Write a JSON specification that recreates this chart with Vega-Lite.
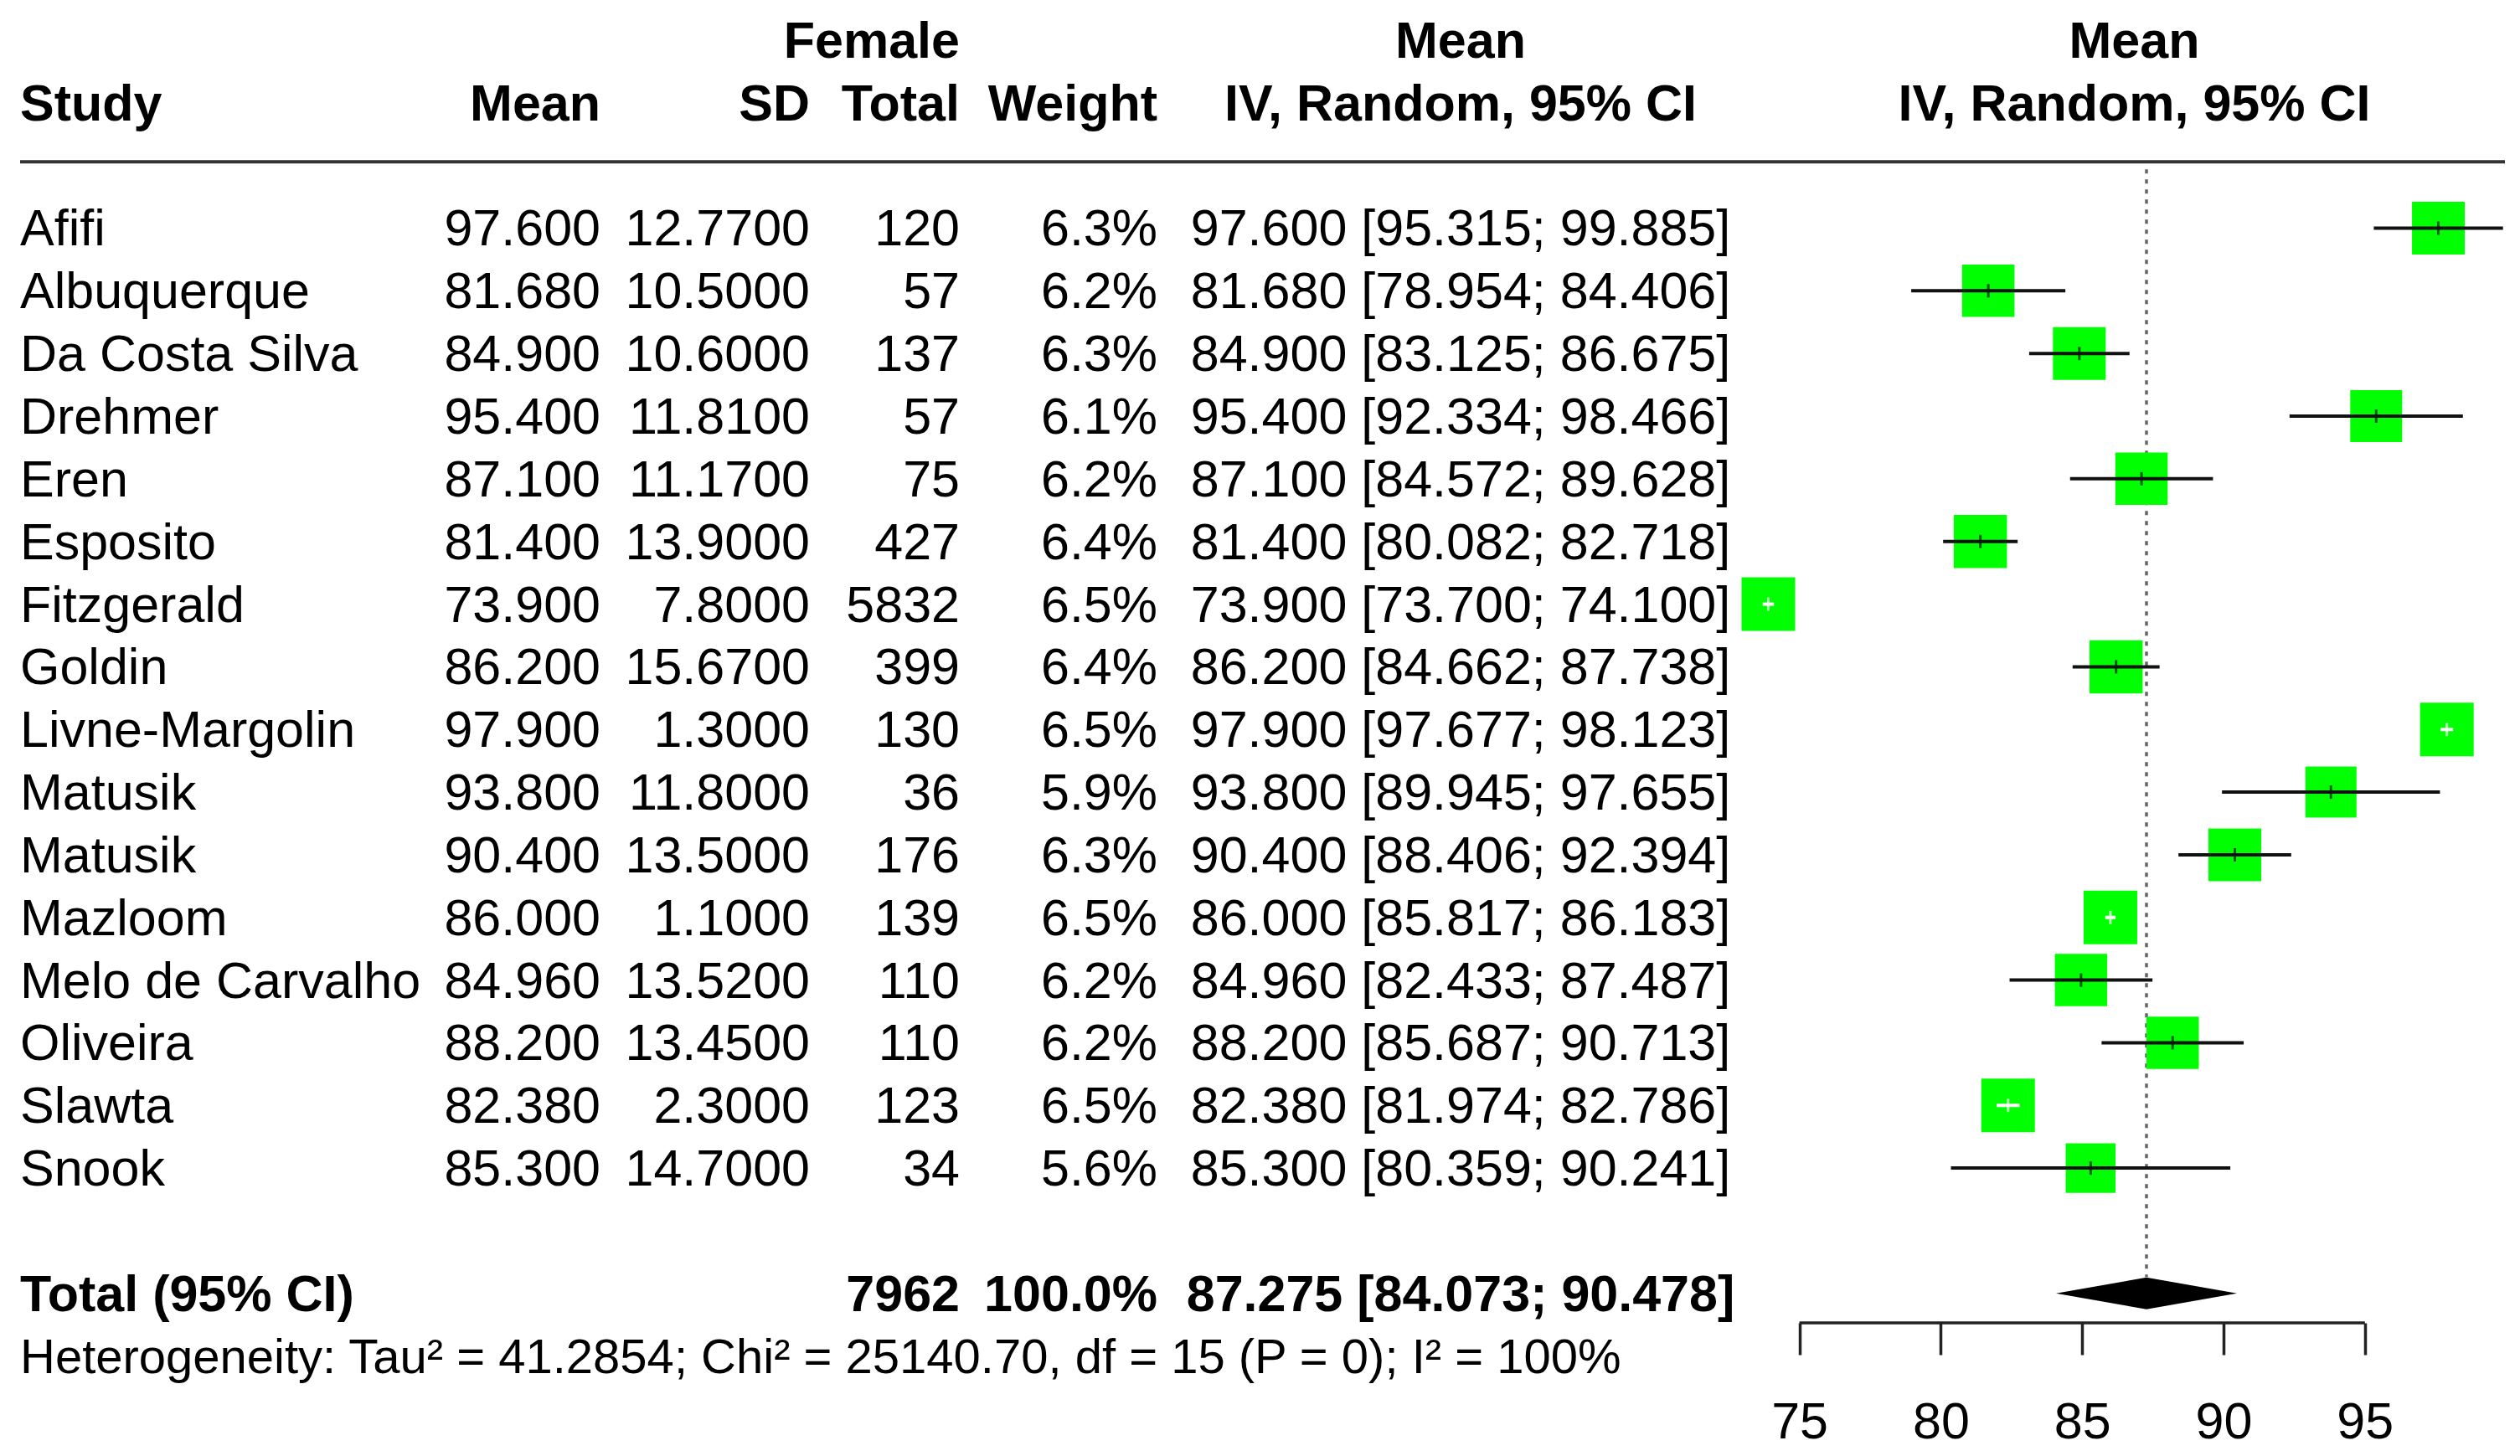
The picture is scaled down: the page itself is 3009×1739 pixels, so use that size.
{
  "$schema": "https://vega.github.io/schema/vega-lite/v6.json",
  "padding": {"left": 22, "right": 20, "top": 0, "bottom": 0},
  "spacing": 0,
  "bounds": "flush",
  "background": "white",
  "config": {
    "view": {"stroke": null},
    "text": {"font": "Liberation Sans", "fontSize": 61, "color": "#000000", "baseline": "middle", "dy": 3}
  },
  "datasets": {
    "studies": [
      {"row": 1, "study": "Afifi", "mean": 97.6, "sd": 12.77, "total": 120, "weight": 0.063, "lower": 95.315, "upper": 99.885, "ci": "97.600 [95.315; 99.885]"},
      {"row": 2, "study": "Albuquerque", "mean": 81.68, "sd": 10.5, "total": 57, "weight": 0.062, "lower": 78.954, "upper": 84.406, "ci": "81.680 [78.954; 84.406]"},
      {"row": 3, "study": "Da Costa Silva", "mean": 84.9, "sd": 10.6, "total": 137, "weight": 0.063, "lower": 83.125, "upper": 86.675, "ci": "84.900 [83.125; 86.675]"},
      {"row": 4, "study": "Drehmer", "mean": 95.4, "sd": 11.81, "total": 57, "weight": 0.061, "lower": 92.334, "upper": 98.466, "ci": "95.400 [92.334; 98.466]"},
      {"row": 5, "study": "Eren", "mean": 87.1, "sd": 11.17, "total": 75, "weight": 0.062, "lower": 84.572, "upper": 89.628, "ci": "87.100 [84.572; 89.628]"},
      {"row": 6, "study": "Esposito", "mean": 81.4, "sd": 13.9, "total": 427, "weight": 0.064, "lower": 80.082, "upper": 82.718, "ci": "81.400 [80.082; 82.718]"},
      {"row": 7, "study": "Fitzgerald", "mean": 73.9, "sd": 7.8, "total": 5832, "weight": 0.065, "lower": 73.7, "upper": 74.1, "ci": "73.900 [73.700; 74.100]"},
      {"row": 8, "study": "Goldin", "mean": 86.2, "sd": 15.67, "total": 399, "weight": 0.064, "lower": 84.662, "upper": 87.738, "ci": "86.200 [84.662; 87.738]"},
      {"row": 9, "study": "Livne-Margolin", "mean": 97.9, "sd": 1.3, "total": 130, "weight": 0.065, "lower": 97.677, "upper": 98.123, "ci": "97.900 [97.677; 98.123]"},
      {"row": 10, "study": "Matusik", "mean": 93.8, "sd": 11.8, "total": 36, "weight": 0.059, "lower": 89.945, "upper": 97.655, "ci": "93.800 [89.945; 97.655]"},
      {"row": 11, "study": "Matusik", "mean": 90.4, "sd": 13.5, "total": 176, "weight": 0.063, "lower": 88.406, "upper": 92.394, "ci": "90.400 [88.406; 92.394]"},
      {"row": 12, "study": "Mazloom", "mean": 86.0, "sd": 1.1, "total": 139, "weight": 0.065, "lower": 85.817, "upper": 86.183, "ci": "86.000 [85.817; 86.183]"},
      {"row": 13, "study": "Melo de Carvalho", "mean": 84.96, "sd": 13.52, "total": 110, "weight": 0.062, "lower": 82.433, "upper": 87.487, "ci": "84.960 [82.433; 87.487]"},
      {"row": 14, "study": "Oliveira", "mean": 88.2, "sd": 13.45, "total": 110, "weight": 0.062, "lower": 85.687, "upper": 90.713, "ci": "88.200 [85.687; 90.713]"},
      {"row": 15, "study": "Slawta", "mean": 82.38, "sd": 2.3, "total": 123, "weight": 0.065, "lower": 81.974, "upper": 82.786, "ci": "82.380 [81.974; 82.786]"},
      {"row": 16, "study": "Snook", "mean": 85.3, "sd": 14.7, "total": 34, "weight": 0.056, "lower": 80.359, "upper": 90.241, "ci": "85.300 [80.359; 90.241]"}
    ],
    "overall": [
      {"row": 18, "label": "Total (95% CI)", "total": 7962, "weight": 1.0, "est": 87.275, "lower": 84.073, "upper": 90.478, "ci": "87.275 [84.073; 90.478]"}
    ],
    "het": [
      {"row": 19, "text": "Heterogeneity: Tau² = 41.2854; Chi² = 25140.70, df = 15 (P = 0); I² = 100%"}
    ],
    "headers": [
      {"col": "study", "row": -1, "label": "Study"},
      {"col": "mean", "row": -1, "label": "Mean"},
      {"col": "sd", "row": -1, "label": "SD"},
      {"col": "total", "row": -2, "label": "Female"},
      {"col": "total", "row": -1, "label": "Total"},
      {"col": "weight", "row": -1, "label": "Weight"},
      {"col": "ci", "row": -2, "label": "Mean"},
      {"col": "ci", "row": -1, "label": "IV, Random, 95% CI"},
      {"col": "plot", "row": -2, "label": "Mean"},
      {"col": "plot", "row": -1, "label": "IV, Random, 95% CI"}
    ]
  },
  "hconcat": [
    {
      "width": 450, "height": 1739,
      "layer": [
        {"data": {"values": [{}]}, "mark": {"type": "rule", "color": "#333333", "strokeWidth": 4},
         "encoding": {"y": {"datum": -0.06, "type": "quantitative", "scale": {"domain": [-2.641, 20.595], "reverse": true, "nice": false, "zero": false}, "axis": null}}},
        {"data": {"name": "headers"}, "transform": [{"filter": "datum.col === 'study'"}],
         "mark": {"type": "text", "align": "left", "fontWeight": "bold"},
         "encoding": {"x": {"value": 0}, "y": {"field": "row", "type": "quantitative", "scale": {"domain": [-2.641, 20.595], "reverse": true, "nice": false, "zero": false}, "axis": null}, "text": {"field": "label"}}},
        {"data": {"name": "studies"},
         "mark": {"type": "text", "align": "left"},
         "encoding": {"x": {"value": 0}, "y": {"field": "row", "type": "quantitative", "scale": {"domain": [-2.641, 20.595], "reverse": true, "nice": false, "zero": false}, "axis": null}, "text": {"field": "study"}}},
        {"data": {"name": "overall"},
         "mark": {"type": "text", "align": "left", "fontWeight": "bold"},
         "encoding": {"x": {"value": 0}, "y": {"field": "row", "type": "quantitative", "scale": {"domain": [-2.641, 20.595], "reverse": true, "nice": false, "zero": false}, "axis": null}, "text": {"field": "label"}}},
        {"data": {"name": "het"},
         "mark": {"type": "text", "align": "left", "fontSize": 58},
         "encoding": {"x": {"value": 0}, "y": {"field": "row", "type": "quantitative", "scale": {"domain": [-2.641, 20.595], "reverse": true, "nice": false, "zero": false}, "axis": null}, "text": {"field": "text"}}}
      ]
    },
    {
      "width": 243, "height": 1739,
      "layer": [
        {"data": {"values": [{}]}, "mark": {"type": "rule", "color": "#333333", "strokeWidth": 4},
         "encoding": {"y": {"datum": -0.06, "type": "quantitative", "scale": {"domain": [-2.641, 20.595], "reverse": true, "nice": false, "zero": false}, "axis": null}}},
        {"data": {"name": "headers"}, "transform": [{"filter": "datum.col === 'mean'"}],
         "mark": {"type": "text", "align": "right", "fontWeight": "bold"},
         "encoding": {"x": {"value": "width"}, "y": {"field": "row", "type": "quantitative", "scale": {"domain": [-2.641, 20.595], "reverse": true, "nice": false, "zero": false}, "axis": null}, "text": {"field": "label"}}},
        {"data": {"name": "studies"},
         "mark": {"type": "text", "align": "right"},
         "encoding": {"x": {"value": "width"}, "y": {"field": "row", "type": "quantitative", "scale": {"domain": [-2.641, 20.595], "reverse": true, "nice": false, "zero": false}, "axis": null}, "text": {"field": "mean", "type": "quantitative", "format": ".3f"}}}
      ]
    },
    {
      "width": 250, "height": 1739,
      "layer": [
        {"data": {"values": [{}]}, "mark": {"type": "rule", "color": "#333333", "strokeWidth": 4},
         "encoding": {"y": {"datum": -0.06, "type": "quantitative", "scale": {"domain": [-2.641, 20.595], "reverse": true, "nice": false, "zero": false}, "axis": null}}},
        {"data": {"name": "headers"}, "transform": [{"filter": "datum.col === 'sd'"}],
         "mark": {"type": "text", "align": "right", "fontWeight": "bold"},
         "encoding": {"x": {"value": "width"}, "y": {"field": "row", "type": "quantitative", "scale": {"domain": [-2.641, 20.595], "reverse": true, "nice": false, "zero": false}, "axis": null}, "text": {"field": "label"}}},
        {"data": {"name": "studies"},
         "mark": {"type": "text", "align": "right"},
         "encoding": {"x": {"value": "width"}, "y": {"field": "row", "type": "quantitative", "scale": {"domain": [-2.641, 20.595], "reverse": true, "nice": false, "zero": false}, "axis": null}, "text": {"field": "sd", "type": "quantitative", "format": ".4f"}}}
      ]
    },
    {
      "width": 179, "height": 1739,
      "layer": [
        {"data": {"values": [{}]}, "mark": {"type": "rule", "color": "#333333", "strokeWidth": 4},
         "encoding": {"y": {"datum": -0.06, "type": "quantitative", "scale": {"domain": [-2.641, 20.595], "reverse": true, "nice": false, "zero": false}, "axis": null}}},
        {"data": {"name": "headers"}, "transform": [{"filter": "datum.col === 'total'"}],
         "mark": {"type": "text", "align": "right", "fontWeight": "bold"},
         "encoding": {"x": {"value": "width"}, "y": {"field": "row", "type": "quantitative", "scale": {"domain": [-2.641, 20.595], "reverse": true, "nice": false, "zero": false}, "axis": null}, "text": {"field": "label"}}},
        {"data": {"name": "studies"},
         "mark": {"type": "text", "align": "right"},
         "encoding": {"x": {"value": "width"}, "y": {"field": "row", "type": "quantitative", "scale": {"domain": [-2.641, 20.595], "reverse": true, "nice": false, "zero": false}, "axis": null}, "text": {"field": "total", "type": "nominal"}}},
        {"data": {"name": "overall"},
         "mark": {"type": "text", "align": "right", "fontWeight": "bold"},
         "encoding": {"x": {"value": "width"}, "y": {"field": "row", "type": "quantitative", "scale": {"domain": [-2.641, 20.595], "reverse": true, "nice": false, "zero": false}, "axis": null}, "text": {"field": "total", "type": "nominal"}}}
      ]
    },
    {
      "width": 236, "height": 1739,
      "layer": [
        {"data": {"values": [{}]}, "mark": {"type": "rule", "color": "#333333", "strokeWidth": 4},
         "encoding": {"y": {"datum": -0.06, "type": "quantitative", "scale": {"domain": [-2.641, 20.595], "reverse": true, "nice": false, "zero": false}, "axis": null}}},
        {"data": {"name": "headers"}, "transform": [{"filter": "datum.col === 'weight'"}],
         "mark": {"type": "text", "align": "right", "fontWeight": "bold"},
         "encoding": {"x": {"value": "width"}, "y": {"field": "row", "type": "quantitative", "scale": {"domain": [-2.641, 20.595], "reverse": true, "nice": false, "zero": false}, "axis": null}, "text": {"field": "label"}}},
        {"data": {"name": "studies"},
         "mark": {"type": "text", "align": "right"},
         "encoding": {"x": {"value": "width"}, "y": {"field": "row", "type": "quantitative", "scale": {"domain": [-2.641, 20.595], "reverse": true, "nice": false, "zero": false}, "axis": null}, "text": {"field": "weight", "type": "quantitative", "format": ".1%"}}},
        {"data": {"name": "overall"},
         "mark": {"type": "text", "align": "right", "fontWeight": "bold"},
         "encoding": {"x": {"value": "width"}, "y": {"field": "row", "type": "quantitative", "scale": {"domain": [-2.641, 20.595], "reverse": true, "nice": false, "zero": false}, "axis": null}, "text": {"field": "weight", "type": "quantitative", "format": ".1%"}}}
      ]
    },
    {
      "width": 724, "height": 1739,
      "layer": [
        {"data": {"values": [{}]}, "mark": {"type": "rule", "color": "#333333", "strokeWidth": 4},
         "encoding": {"y": {"datum": -0.06, "type": "quantitative", "scale": {"domain": [-2.641, 20.595], "reverse": true, "nice": false, "zero": false}, "axis": null}}},
        {"data": {"name": "headers"}, "transform": [{"filter": "datum.col === 'ci'"}],
         "mark": {"type": "text", "align": "center", "fontWeight": "bold"},
         "encoding": {"x": {"datum": 0.5, "type": "quantitative", "scale": {"domain": [0, 1], "nice": false, "zero": false}, "axis": null}, "y": {"field": "row", "type": "quantitative", "scale": {"domain": [-2.641, 20.595], "reverse": true, "nice": false, "zero": false}, "axis": null}, "text": {"field": "label"}}},
        {"data": {"name": "studies"},
         "mark": {"type": "text", "align": "center"},
         "encoding": {"x": {"datum": 0.5, "type": "quantitative", "scale": {"domain": [0, 1], "nice": false, "zero": false}, "axis": null}, "y": {"field": "row", "type": "quantitative", "scale": {"domain": [-2.641, 20.595], "reverse": true, "nice": false, "zero": false}, "axis": null}, "text": {"field": "ci"}}},
        {"data": {"name": "overall"},
         "mark": {"type": "text", "align": "center", "fontWeight": "bold"},
         "encoding": {"x": {"datum": 0.5, "type": "quantitative", "scale": {"domain": [0, 1], "nice": false, "zero": false}, "axis": null}, "y": {"field": "row", "type": "quantitative", "scale": {"domain": [-2.641, 20.595], "reverse": true, "nice": false, "zero": false}, "axis": null}, "text": {"field": "ci"}}}
      ]
    },
    {
      "width": 885, "height": 1739,
      "layer": [
        {"data": {"values": [{}]}, "mark": {"type": "rule", "color": "#333333", "strokeWidth": 4},
         "encoding": {"y": {"datum": -0.06, "type": "quantitative", "scale": {"domain": [-2.641, 20.595], "reverse": true, "nice": false, "zero": false}, "axis": null}}},
        {"data": {"name": "headers"}, "transform": [{"filter": "datum.col === 'plot'"}],
         "mark": {"type": "text", "align": "center", "fontWeight": "bold"},
         "encoding": {
           "x": {"datum": 86.8455, "type": "quantitative", "scale": {"domain": [73.738, 99.953], "nice": false, "zero": false}, "axis": {"title": null, "grid": false, "domain": false, "offset": -159, "values": [75, 80, 85, 90, 95], "tickSize": 38, "tickWidth": 3.5, "tickColor": "#222222", "labelFont": "Liberation Sans", "labelFontSize": 61, "labelColor": "#000000", "labelPadding": 51, "labelFlush": false, "labelOverlap": false}},
           "y": {"field": "row", "type": "quantitative", "scale": {"domain": [-2.641, 20.595], "reverse": true, "nice": false, "zero": false}, "axis": null},
           "text": {"field": "label"}}},
        {"data": {"name": "overall"},
         "mark": {"type": "rule", "color": "#666666", "strokeWidth": 3.5, "strokeDash": [5, 7]},
         "encoding": {
           "x": {"field": "est", "type": "quantitative", "scale": {"domain": [73.738, 99.953], "nice": false, "zero": false}, "axis": {"title": null, "grid": false, "domain": false, "offset": -159, "values": [75, 80, 85, 90, 95], "tickSize": 38, "tickWidth": 3.5, "tickColor": "#222222", "labelFont": "Liberation Sans", "labelFontSize": 61, "labelColor": "#000000", "labelPadding": 51, "labelFlush": false, "labelOverlap": false}},
           "y": {"datum": 0.06, "type": "quantitative", "scale": {"domain": [-2.641, 20.595], "reverse": true, "nice": false, "zero": false}, "axis": null},
           "y2": {"datum": 17.74}
         }},
        {"data": {"name": "studies"},
         "mark": {"type": "point", "shape": "square", "filled": true, "opacity": 1, "strokeWidth": 0},
         "encoding": {
           "x": {"field": "mean", "type": "quantitative", "scale": {"domain": [73.738, 99.953], "nice": false, "zero": false}, "axis": {"title": null, "grid": false, "domain": false, "offset": -159, "values": [75, 80, 85, 90, 95], "tickSize": 38, "tickWidth": 3.5, "tickColor": "#222222", "labelFont": "Liberation Sans", "labelFontSize": 61, "labelColor": "#000000", "labelPadding": 51, "labelFlush": false, "labelOverlap": false}},
           "y": {"field": "row", "type": "quantitative", "scale": {"domain": [-2.641, 20.595], "reverse": true, "nice": false, "zero": false}, "axis": null},
           "size": {"field": "weight", "type": "quantitative", "scale": {"domain": [0, 0.065], "range": [0, 4096]}, "legend": null},
           "color": {"value": "#00ff00"}
         }},
        {"data": {"name": "studies"},
         "mark": {"type": "rule", "strokeWidth": 4},
         "encoding": {
           "x": {"field": "lower", "type": "quantitative", "scale": {"domain": [73.738, 99.953], "nice": false, "zero": false}, "axis": {"title": null, "grid": false, "domain": false, "offset": -159, "values": [75, 80, 85, 90, 95], "tickSize": 38, "tickWidth": 3.5, "tickColor": "#222222", "labelFont": "Liberation Sans", "labelFontSize": 61, "labelColor": "#000000", "labelPadding": 51, "labelFlush": false, "labelOverlap": false}},
           "x2": {"field": "upper"},
           "y": {"field": "row", "type": "quantitative", "scale": {"domain": [-2.641, 20.595], "reverse": true, "nice": false, "zero": false}, "axis": null},
           "color": {"condition": {"test": "datum.upper - datum.lower < 1.8", "value": "#ffffff"}, "value": "#111111"}
         }},
        {"data": {"name": "studies"},
         "mark": {"type": "tick", "orient": "vertical", "thickness": 3},
         "encoding": {
           "x": {"field": "mean", "type": "quantitative", "scale": {"domain": [73.738, 99.953], "nice": false, "zero": false}, "axis": {"title": null, "grid": false, "domain": false, "offset": -159, "values": [75, 80, 85, 90, 95], "tickSize": 38, "tickWidth": 3.5, "tickColor": "#222222", "labelFont": "Liberation Sans", "labelFontSize": 61, "labelColor": "#000000", "labelPadding": 51, "labelFlush": false, "labelOverlap": false}},
           "y": {"field": "row", "type": "quantitative", "scale": {"domain": [-2.641, 20.595], "reverse": true, "nice": false, "zero": false}, "axis": null},
           "size": {"value": 16},
           "color": {"condition": {"test": "datum.upper - datum.lower < 1.8", "value": "#ffffff"}, "value": "#111111"}
         }},
        {"data": {"name": "overall"},
         "mark": {"type": "point", "shape": "M-1,0L0,-0.176L1,0L0,0.176Z", "filled": true, "opacity": 1, "strokeWidth": 0, "size": 46656},
         "encoding": {
           "x": {"field": "est", "type": "quantitative", "scale": {"domain": [73.738, 99.953], "nice": false, "zero": false}, "axis": {"title": null, "grid": false, "domain": false, "offset": -159, "values": [75, 80, 85, 90, 95], "tickSize": 38, "tickWidth": 3.5, "tickColor": "#222222", "labelFont": "Liberation Sans", "labelFontSize": 61, "labelColor": "#000000", "labelPadding": 51, "labelFlush": false, "labelOverlap": false}},
           "y": {"field": "row", "type": "quantitative", "scale": {"domain": [-2.641, 20.595], "reverse": true, "nice": false, "zero": false}, "axis": null},
           "color": {"value": "#000000"}
         }},
        {"data": {"values": [{}]},
         "mark": {"type": "rule", "color": "#222222", "strokeWidth": 3.5},
         "encoding": {
           "x": {"datum": 75, "type": "quantitative", "scale": {"domain": [73.738, 99.953], "nice": false, "zero": false}, "axis": {"title": null, "grid": false, "domain": false, "offset": -159, "values": [75, 80, 85, 90, 95], "tickSize": 38, "tickWidth": 3.5, "tickColor": "#222222", "labelFont": "Liberation Sans", "labelFontSize": 61, "labelColor": "#000000", "labelPadding": 51, "labelFlush": false, "labelOverlap": false}},
           "x2": {"datum": 95},
           "y": {"datum": 18.47, "type": "quantitative", "scale": {"domain": [-2.641, 20.595], "reverse": true, "nice": false, "zero": false}, "axis": null}
         }}
      ]
    }
  ]
}
